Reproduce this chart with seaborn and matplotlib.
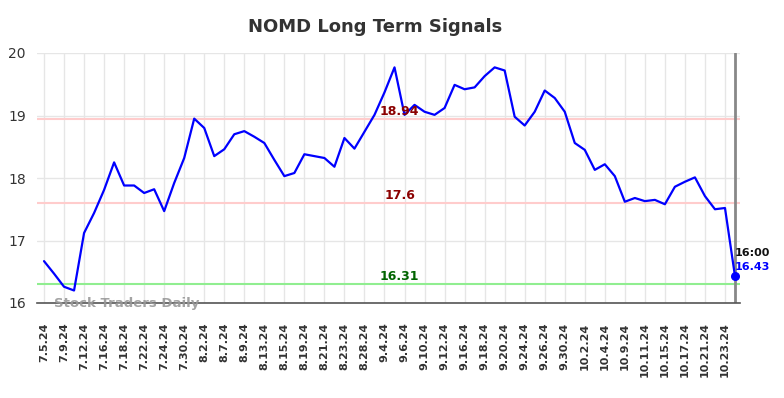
import matplotlib
matplotlib.use("Agg")
import matplotlib.pyplot as plt
import seaborn as sns
import pandas as pd

dates = ["7.5.24", "7.8.24", "7.9.24", "7.11.24", "7.12.24", "7.15.24", "7.16.24", "7.17.24",
         "7.18.24", "7.19.24", "7.22.24", "7.23.24", "7.24.24", "7.25.24", "7.30.24", "7.31.24",
         "8.2.24", "8.6.24", "8.7.24", "8.8.24", "8.9.24", "8.12.24", "8.13.24", "8.14.24",
         "8.15.24", "8.16.24", "8.19.24", "8.20.24", "8.21.24", "8.22.24", "8.23.24", "8.27.24",
         "8.28.24", "8.30.24", "9.4.24", "9.5.24", "9.6.24", "9.9.24", "9.10.24", "9.11.24",
         "9.12.24", "9.13.24", "9.16.24", "9.17.24", "9.18.24", "9.19.24", "9.20.24", "9.23.24",
         "9.24.24", "9.25.24", "9.26.24", "9.27.24", "9.30.24", "10.1.24", "10.2.24", "10.3.24",
         "10.4.24", "10.7.24", "10.9.24", "10.10.24", "10.11.24", "10.14.24", "10.15.24", "10.16.24",
         "10.17.24", "10.18.24", "10.21.24", "10.22.24", "10.23.24", "10.24.24"]
prices = [16.67, 16.47, 16.26, 16.20, 17.12, 17.44, 17.81, 18.25,
          17.88, 17.88, 17.76, 17.82, 17.47, 17.92, 18.32, 18.95,
          18.80, 18.35, 18.46, 18.70, 18.75, 18.66, 18.56, 18.29,
          18.03, 18.08, 18.38, 18.35, 18.32, 18.18, 18.64, 18.47,
          18.74, 19.01, 19.37, 19.77, 19.01, 19.17, 19.06, 19.01,
          19.12, 19.49, 19.42, 19.45, 19.63, 19.77, 19.72, 18.98,
          18.84, 19.06, 19.40, 19.28, 19.06, 18.56, 18.45, 18.13,
          18.22, 18.03, 17.62, 17.68, 17.63, 17.65, 17.58, 17.86,
          17.94, 18.01, 17.71, 17.50, 17.52, 16.43]
upper_level = 18.94
mid_level = 17.6
lower_level = 16.31
last_time = "16:00"

df = pd.DataFrame({"idx": range(len(prices)), "price": prices})

sns.set_style("white")
fig = plt.figure(figsize=(7.84, 3.98), dpi=100)
ax = fig.add_axes([37/784, 1-303/398, (740-37)/784, (303-53)/398])

# grid
for i in range(0, len(dates), 2):
    ax.axvline(i, color="#e6e6e6", lw=1, zorder=0)
for yv in [16, 17, 18, 19, 20]:
    ax.axhline(yv, color="#e6e6e6", lw=1, zorder=0)

ax.axhline(upper_level, color="#ffcccc", lw=1.5, zorder=1)
ax.axhline(mid_level, color="#ffcccc", lw=1.5, zorder=1)
ax.axhline(lower_level, color="#90ee90", lw=1.5, zorder=1)

sns.lineplot(data=df, x="idx", y="price", color="#0000ff", lw=1.6, ax=ax, zorder=3)
last = len(prices) - 1
ax.scatter([last], [prices[-1]], color="#0000ff", s=30, zorder=4)
ax.axvline(last, color="#888888", lw=2, zorder=2)

ax.set_xlim(-0.7, last + 0.5)
ax.set_ylim(16, 20)
ax.set_yticks([16, 17, 18, 19, 20])
ax.set_xticks(range(0, len(dates), 2))
ax.set_xticklabels(dates[::2], rotation=90, fontsize=8, fontweight="bold", color="#333333")
ax.tick_params(axis="y", labelsize=10, colors="#333333", length=0, pad=8)
ax.tick_params(axis="x", length=0, pad=14)
ax.set_xlabel("")
ax.set_ylabel("")
for s in ["top", "right", "left"]:
    ax.spines[s].set_visible(False)
ax.spines["bottom"].set_color("#555555")
ax.spines["bottom"].set_linewidth(1.2)

mid_x = 35.5
for lvl, col in [(upper_level, "#8b0000"), (mid_level, "#8b0000"), (lower_level, "#006400")]:
    ax.text(mid_x, lvl + 0.12, f"{lvl}", color=col, fontsize=9,
            fontweight="bold", ha="center", va="center", zorder=5)

ax.text(last, prices[-1] + 0.14, f"{prices[-1]:.2f}", color="#0000ff", fontsize=8,
        fontweight="bold", ha="left", va="center", zorder=5)
ax.text(last, prices[-1] + 0.37, last_time, color="#111111", fontsize=8,
        fontweight="bold", ha="left", va="center", zorder=5)

ax.text(1, 16.0, "Stock Traders Daily", color="#999999", fontsize=9.5, fontweight="bold",
        ha="left", va="center", alpha=0.9, zorder=5)

fig.text(375/784, 1-27/398, "NOMD Long Term Signals", fontsize=13, fontweight="bold",
         color="#333333", ha="center", va="center")

fig.savefig("out.png", dpi=100)
